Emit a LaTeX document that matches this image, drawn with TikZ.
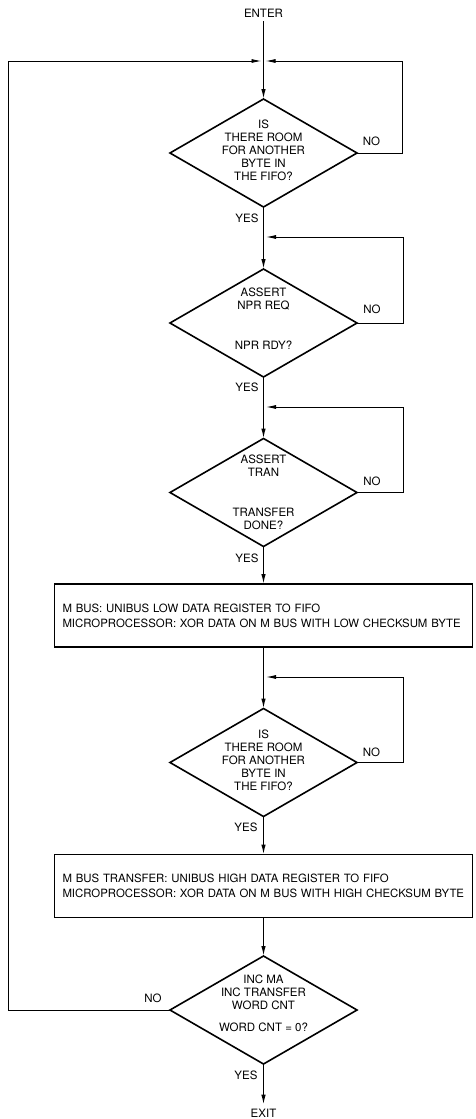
\documentclass[tikz,border=0pt]{standalone}
\usepackage{fontspec}
\setmainfont{TeX Gyre Heros}
\usetikzlibrary{shapes.geometric,arrows.meta}
\newcommand\lblfont{\fontsize{11.5}{13}\selectfont}
\newcommand\boxfont{\fontsize{11.4}{15}\selectfont}
\tikzset{
  dia/.style={draw, shape=diamond, line width=1.6pt, minimum width=187pt, minimum height=108pt, inner sep=0pt, outer sep=0pt},
  procbox/.style={draw, rectangle, line width=1.6pt, minimum width=418pt, minimum height=63pt, inner xsep=8pt, inner ysep=0pt, text width=402pt, align=left, outer sep=0pt, font=\boxfont},
  dtext/.style={align=center, inner sep=0pt, font=\lblfont},
  lbl/.style={inner sep=0pt, font=\lblfont},
  term/.style={inner sep=4pt, font=\lblfont},
  flow/.style={line width=1.3pt, -{Latex[length=10pt,width=4.5pt]}},
  loopback/.style={line width=0.9pt, -{Latex[length=10pt,width=4pt]}}
}
\begin{document}
\begin{tikzpicture}[x=1pt,y=-1pt]
\useasboundingbox (0,0) rectangle (475,1119);
% nodes
\node[term] (enter) at (263.5,13) {ENTER};
\node[dia] (d1) at (263.5,153) {};
\node[dtext] (d1t) at (263.5,150) {IS\\THERE ROOM\\FOR ANOTHER\\BYTE IN\\THE FIFO?};
\node[dia] (d2) at (263.5,323) {};
\node[dtext] (d2t) at (263.5,318.5) {ASSERT\\NPR REQ\\[27pt]NPR RDY?};
\node[dia] (d3) at (263.5,492.5) {};
\node[dtext] (d3t) at (263.5,492.5) {ASSERT\\TRAN\\[27pt]TRANSFER\\DONE?};
\node[procbox] (b1) at (263.5,615.5) {M BUS: UNIBUS LOW DATA REGISTER TO FIFO\\MICROPROCESSOR: XOR DATA ON M BUS WITH LOW CHECKSUM BYTE};
\node[dia] (d4) at (263.5,762.5) {};
\node[dtext] (d4t) at (263.5,760) {IS\\THERE ROOM\\FOR ANOTHER\\BYTE IN\\THE FIFO?};
\node[procbox] (b2) at (263.5,886) {M BUS TRANSFER: UNIBUS HIGH DATA REGISTER TO FIFO\\MICROPROCESSOR: XOR DATA ON M BUS WITH HIGH CHECKSUM BYTE};
\node[dia] (d5) at (263.5,1010) {};
\node[dtext] (d5t) at (263.5,1003.5) {INC MA\\INC TRANSFER\\WORD CNT\\[9pt]WORD CNT = 0?};
\node[term] (exit) at (263.5,1113) {EXIT};
% labels
\node[lbl] (no1) at (371.5,141) {NO};
\node[lbl] (no2) at (372,309) {NO};
\node[lbl] (no3) at (372,481) {NO};
\node[lbl] (no4) at (371.5,752) {NO};
\node[lbl] (no5) at (153,998) {NO};
\node[lbl] (yes1) at (247,218) {YES};
\node[lbl] (yes2) at (247,387) {YES};
\node[lbl] (yes3) at (247,558) {YES};
\node[lbl] (yes4) at (246,827) {YES};
\node[lbl] (yes5) at (246,1075) {YES};
% coordinates for loops
\coordinate (r1) at (402,61);
\coordinate (t1r) at (265.5,61);
\coordinate (l1) at (8,61);
\coordinate (t1l) at (261.5,61);
\coordinate (r2) at (403,237);
\coordinate (t2) at (266,237);
\coordinate (r3) at (403,407);
\coordinate (t3) at (266,407);
\coordinate (r4) at (403,677);
\coordinate (t4) at (266,677);
% connectors
\draw[flow] (enter) -- (d1.north);
\draw[flow] (d1.south) -- (d2.north);
\draw[flow] (d2.south) -- (d3.north);
\draw[flow] (d3.south) -- (b1.north);
\draw[flow] (b1.south) -- (d4.north);
\draw[flow] (d4.south) -- (b2.north);
\draw[flow] (b2.south) -- (d5.north);
\draw[flow] (d5.south) -- (exit);
\draw[loopback] (d1.east) -| (r1) -- (t1r);
\draw[loopback] (d2.east) -| (r2) -- (t2);
\draw[loopback] (d3.east) -| (r3) -- (t3);
\draw[loopback] (d4.east) -| (r4) -- (t4);
\draw[loopback] (d5.west) -| (l1) -- (t1l);
\end{tikzpicture}
\end{document}
